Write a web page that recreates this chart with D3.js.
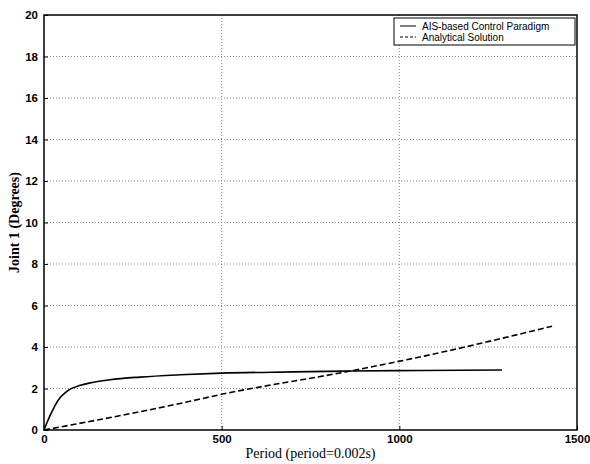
<!DOCTYPE html>
<html>
<head>
<meta charset="utf-8">
<script src="https://cdn.jsdelivr.net/npm/d3@7"></script>
<style>
  body { margin: 0; background: #fff; }
  svg { display: block; }
</style>
</head>
<body>
<svg id="chart" width="590" height="464"></svg>
<script>
// values
const xTicks = [0, 500, 1000, 1500];
const yTicks = [0, 2, 4, 6, 8, 10, 12, 14, 16, 18, 20];
const seriesNames = ["AIS-based Control Paradigm", "Analytical Solution"];

const aisPeriod = [0, 10, 20, 31, 45, 60, 75, 100, 130, 186, 270, 383, 500, 700, 861, 1058, 1289];
const aisValue  = [0, 0.42, 0.8, 1.18, 1.55, 1.8, 1.98, 2.14, 2.27, 2.42, 2.55, 2.66, 2.74, 2.8, 2.84, 2.87, 2.89];

const anaPeriod = [0, 383, 500, 861, 1058, 1430];
const anaValue  = [0, 1.28, 1.72, 2.84, 3.52, 5.0];

const svg = d3.select("#chart");
const margin = { top: 15, right: 13, bottom: 34, left: 44 };
const width = 590 - margin.left - margin.right;
const height = 464 - margin.top - margin.bottom;

const x = d3.scaleLinear().domain([0, 1500]).range([0, width]);
const y = d3.scaleLinear().domain([0, 20]).range([height, 0]);

const g = svg.append("g")
    .attr("transform", `translate(${margin.left},${margin.top})`);

// dotted grid
g.selectAll(".hgrid")
    .data(yTicks.slice(1, -1))
    .join("line")
    .attr("class", "hgrid")
    .attr("x1", 0)
    .attr("x2", width)
    .attr("y1", d => y(d))
    .attr("y2", d => y(d))
    .attr("stroke", "#8a8a8a")
    .attr("stroke-width", 1)
    .attr("stroke-dasharray", "1,2");
g.selectAll(".vgrid")
    .data(xTicks.slice(1, -1))
    .join("line")
    .attr("class", "vgrid")
    .attr("x1", d => x(d))
    .attr("x2", d => x(d))
    .attr("y1", 0)
    .attr("y2", height)
    .attr("stroke", "#8a8a8a")
    .attr("stroke-width", 1)
    .attr("stroke-dasharray", "1,2");

// axes
const xAxis = g.append("g")
    .attr("transform", `translate(0,${height})`)
    .call(d3.axisBottom(x).tickValues(xTicks).tickSize(-4).tickPadding(6).tickFormat(d3.format("d")));
const yAxis = g.append("g")
    .call(d3.axisLeft(y).tickValues(yTicks).tickSize(-4).tickPadding(6).tickFormat(d3.format("d")));
[xAxis, yAxis].forEach(a => {
    a.select(".domain").remove();
    a.selectAll("line").attr("stroke", "#000");
    a.selectAll("text")
        .attr("font-family", "Liberation Sans, Arial, sans-serif")
        .attr("font-size", 11.5)
        .attr("font-weight", "bold")
        .attr("fill", "#000");
});
xAxis.selectAll("text").attr("dy", "0.6em");

// frame
g.append("rect")
    .attr("width", width)
    .attr("height", height)
    .attr("fill", "none")
    .attr("stroke", "#000")
    .attr("stroke-width", 1.5);

// lines
const line = d3.line()
    .x(d => x(d[0]))
    .y(d => y(d[1]))
    .curve(d3.curveMonotoneX);

g.append("path")
    .datum(d3.zip(aisPeriod, aisValue))
    .attr("d", line)
    .attr("fill", "none")
    .attr("stroke", "#000")
    .attr("stroke-width", 1.6);
g.append("path")
    .datum(d3.zip(anaPeriod, anaValue))
    .attr("d", line)
    .attr("fill", "none")
    .attr("stroke", "#000")
    .attr("stroke-width", 1.6)
    .attr("stroke-dasharray", "6,3");

// legend
const legend = g.append("g")
    .attr("transform", `translate(${width - 183},3)`);
legend.append("rect")
    .attr("width", 181)
    .attr("height", 27)
    .attr("fill", "#fff")
    .attr("stroke", "#000")
    .attr("stroke-width", 1);
seriesNames.forEach((name, i) => {
    const ly = 8 + i * 11;
    legend.append("line")
        .attr("x1", 6)
        .attr("x2", 22)
        .attr("y1", ly)
        .attr("y2", ly)
        .attr("stroke", "#000")
        .attr("stroke-width", 1)
        .attr("stroke-dasharray", i === 0 ? null : "3,2");
    legend.append("text")
        .attr("x", 28)
        .attr("y", ly)
        .attr("dy", "0.35em")
        .attr("font-family", "Liberation Sans, Arial, sans-serif")
        .attr("font-size", 10)
        .text(name);
});

// axis titles
svg.append("text")
    .attr("x", margin.left + width / 2)
    .attr("y", 458)
    .attr("text-anchor", "middle")
    .attr("font-family", "Liberation Serif, Times New Roman, serif")
    .attr("font-size", 14)
    .text("Period (period=0.002s)");
svg.append("text")
    .attr("transform", `translate(19,${margin.top + height / 2}) rotate(-90)`)
    .attr("text-anchor", "middle")
    .attr("font-family", "Liberation Serif, Times New Roman, serif")
    .attr("font-size", 14)
    .attr("font-weight", "bold")
    .text("Joint 1 (Degrees)");
</script>
</body>
</html>
